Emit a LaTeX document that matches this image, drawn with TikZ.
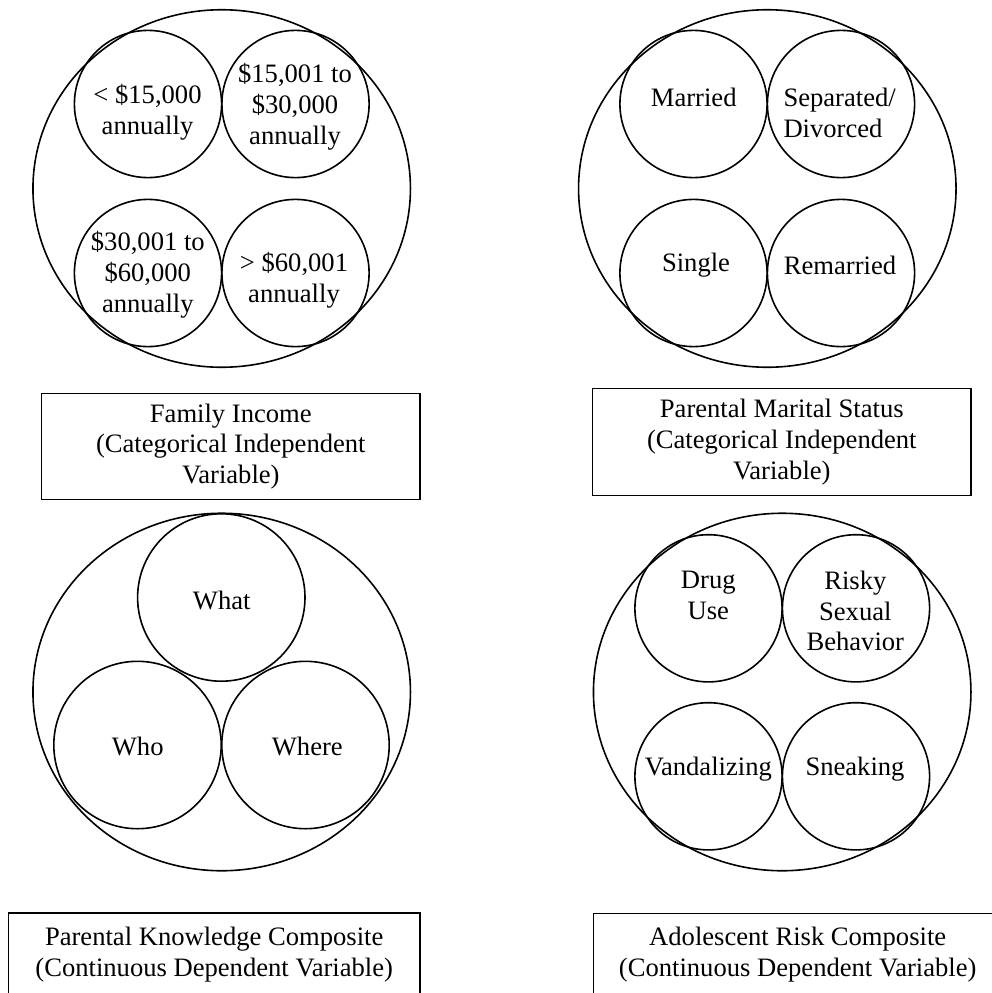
\documentclass[tikz,border=0pt]{standalone}
\usepackage{fontspec}
\setmainfont{Liberation Serif}
\usetikzlibrary{shapes.geometric}
\begin{document}
\begin{tikzpicture}[x=1bp,y=-1bp,
  lw/.style={line width=1.6bp},
  txt/.style={font=\fontsize{26.6bp}{30.8bp}\selectfont,align=center,inner sep=0pt},
  outer/.style={draw,lw,ellipse,inner sep=0pt,minimum width=377.5bp,minimum height=357.5bp},
  small/.style={draw,lw,circle,inner sep=0pt,minimum size=147.2bp},
  mid/.style={draw,lw,circle,inner sep=0pt,minimum size=167.4bp},
  labelbox/.style={draw,lw,rectangle,inner sep=0pt,font=\fontsize{26.6bp}{30.8bp}\selectfont,align=center}
]
\useasboundingbox (0,0) rectangle (992,993);

% ---------- Top-left: Family Income ----------
\node[outer] (fiO) at (221.7,188.5) {};
\node[small] (fi1) at (148,104) {};
\node[small] (fi2) at (295.5,104) {};
\node[small] (fi3) at (148,273) {};
\node[small] (fi4) at (295.5,273) {};
\node[txt] (fi1t) at (147.5,112.3) {< \$15,000\\annually};
\node[txt] (fi2t) at (295,107) {\$15,001 to\\\$30,000\\annually};
\node[txt] (fi3t) at (147.8,275) {\$30,001 to\\\$60,000\\annually};
\node[txt] (fi4t) at (294,280) {> \$60,001\\annually};
\node[labelbox,minimum width=378.3bp,minimum height=106bp] (fiB) at (230.8,446.5)
  {Family Income\\(Categorical Independent\\Variable)};

% ---------- Top-right: Parental Marital Status ----------
\node[outer] (msO) at (767.3,188.5) {};
\node[small] (ms1) at (693.5,104) {};
\node[small] (ms2) at (841,104) {};
\node[small] (ms3) at (693.5,273) {};
\node[small] (ms4) at (841,273) {};
\node[txt] (ms1t) at (693.7,97) {Married};
\node[txt,align=left,anchor=west] (ms2t) at (783.3,112.5) {Separated/\\Divorced};
\node[txt] (ms3t) at (696,265) {Single};
\node[txt] (ms4t) at (840,265) {Remarried};
\node[labelbox,minimum width=378.3bp,minimum height=107bp] (msB) at (781.8,442)
  {Parental Marital Status\\(Categorical Independent\\Variable)};

% ---------- Bottom-left: Parental Knowledge ----------
\node[outer] (pkO) at (221.7,692) {};
\node[mid] (pk1) at (221.3,597.5) {};
\node[mid] (pk2) at (137.5,745) {};
\node[mid] (pk3) at (305.5,745) {};
\node[txt] (pk1t) at (221.7,600.7) {What};
\node[txt] (pk2t) at (137.7,746.7) {Who};
\node[txt] (pk3t) at (307.3,746.7) {Where};
\node[labelbox,minimum width=411.7bp,minimum height=83bp] (pkB) at (214.2,954.2)
  {Parental Knowledge Composite\\(Continuous Dependent Variable)};

% ---------- Bottom-right: Adolescent Risk ----------
\node[outer] (arO) at (782.2,692) {};
\node[small] (ar1) at (708.5,608.3) {};
\node[small] (ar2) at (856,608.3) {};
\node[small] (ar3) at (708.5,776.3) {};
\node[small] (ar4) at (856,776.3) {};
\node[txt] (ar1t) at (708.3,595.3) {Drug\\Use};
\node[txt] (ar2t) at (855.3,611) {Risky\\Sexual\\Behavior};
\node[txt] (ar3t) at (708.3,769.3) {Vandalizing};
\node[txt] (ar4t) at (855,769.3) {Sneaking};
\node[draw,lw,rectangle,inner sep=0pt,anchor=north west,minimum width=440bp,minimum height=100bp] (arB) at (592.7,912.7) {};
\node[txt] (arBt) at (797.7,954.2) {Adolescent Risk Composite\\(Continuous Dependent Variable)};
\end{tikzpicture}
\end{document}
